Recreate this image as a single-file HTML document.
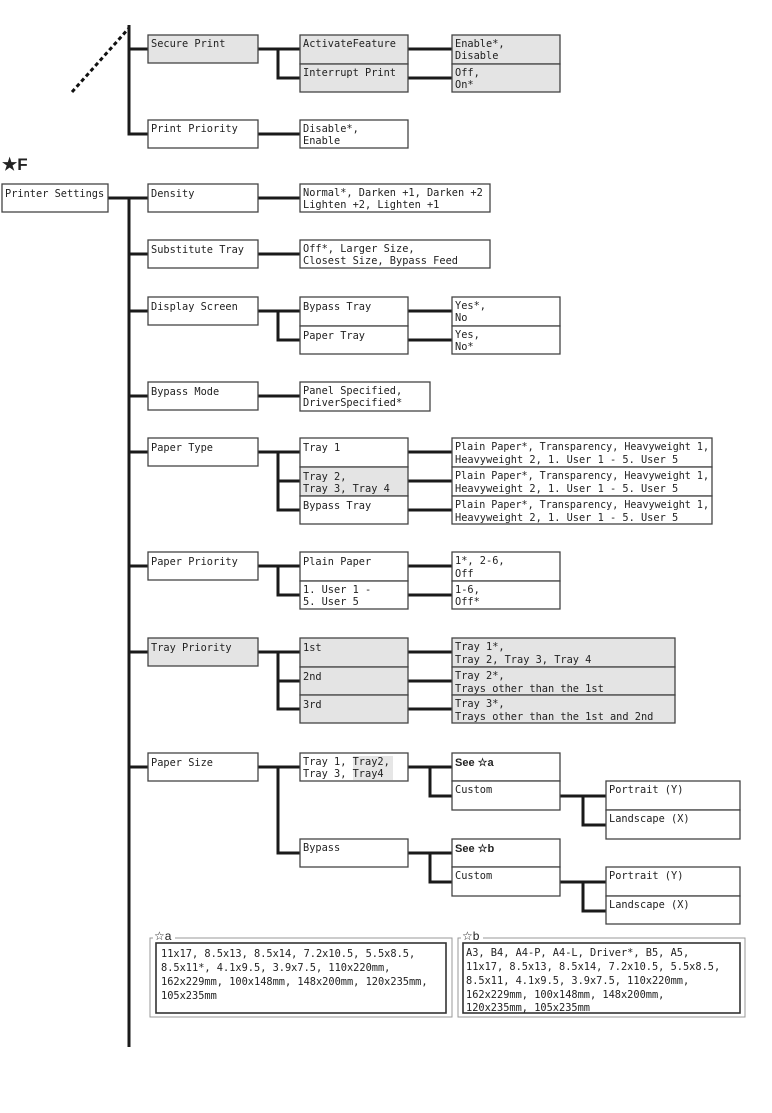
<!DOCTYPE html>
<html><head><meta charset="utf-8"><style>
html,body{margin:0;padding:0;background:#fff;width:772px;height:1113px;overflow:hidden}
svg text{font-family:"DejaVu Sans Mono","Liberation Mono",monospace;font-size:10.3px;fill:#222}
.b{fill:#fff;stroke:#444;stroke-width:1.3}
.g{fill:#e4e4e4;stroke:#444;stroke-width:1.3}
.l{fill:none;stroke:#1a1a1a;stroke-width:3}
.h{font-family:"Liberation Sans",sans-serif!important;font-weight:bold;font-size:11px!important}
</style></head><body>
<svg width="772" height="1113" viewBox="0 0 772 1113" xmlns="http://www.w3.org/2000/svg">
<line x1="72" y1="92" x2="129" y2="28" stroke="#111" stroke-width="3" stroke-dasharray="4,3"/>
<path class="l" d="M129 25V134H148M129 49H148M258 49H300M278 49V78H300M408 49H452M408 78H452M258 134H300"/>
<path class="l" d="M108 198H148M129 198V1047M129 254H148M129 311H148M129 396H148M129 452H148M129 566H148M129 652H148M129 767H148"/>
<path class="l" d="M258 198H300M258 254H300M258 311H300M278 311V340H300M408 311H452M408 340H452M258 396H300"/>
<path class="l" d="M258 452H300M278 452V510H300M278 481H300M408 452H452M408 481H452M408 510H452"/>
<path class="l" d="M258 566H300M278 566V595H300M408 566H452M408 595H452"/>
<path class="l" d="M258 652H300M278 652V709H300M278 681H300M408 652H452M408 681H452M408 709H452"/>
<path class="l" d="M258 767H300M278 767V853H300M408 767H452M430 767V796H452M560 796H606M583 796V825H606M408 853H452M430 853V882H452M560 882H606M583 882V911H606"/>
<rect class="g" x="148" y="35" width="110" height="28"/><text x="151" y="47">Secure Print</text>
<rect class="g" x="300" y="35" width="108" height="29"/><text x="303" y="47">ActivateFeature</text>
<rect class="g" x="300" y="64" width="108" height="28"/><text x="303" y="76">Interrupt Print</text>
<rect class="g" x="452" y="35" width="108" height="29"/><text x="455" y="47">Enable*,</text><text x="455" y="59">Disable</text>
<rect class="g" x="452" y="64" width="108" height="28"/><text x="455" y="76">Off,</text><text x="455" y="88">On*</text>
<rect class="b" x="148" y="120" width="110" height="28"/><text x="151" y="132">Print Priority</text>
<rect class="b" x="300" y="120" width="108" height="28"/><text x="303" y="132">Disable*,</text><text x="303" y="144">Enable</text>
<text x="2" y="170" style="font-family:'Liberation Sans',sans-serif;font-weight:bold;font-size:17px">★F</text>
<rect class="b" x="2" y="184" width="106" height="28"/><text x="5" y="197">Printer Settings</text>
<rect class="b" x="148" y="184" width="110" height="28"/><text x="151" y="197">Density</text>
<rect class="b" x="300" y="184" width="190" height="28"/><text x="303" y="196">Normal*, Darken +1, Darken +2</text><text x="303" y="208">Lighten +2, Lighten +1</text>
<rect class="b" x="148" y="240" width="110" height="28"/><text x="151" y="253">Substitute Tray</text>
<rect class="b" x="300" y="240" width="190" height="28"/><text x="303" y="252">Off*, Larger Size,</text><text x="303" y="264">Closest Size, Bypass Feed</text>
<rect class="b" x="148" y="297" width="110" height="28"/><text x="151" y="310">Display Screen</text>
<rect class="b" x="300" y="297" width="108" height="29"/><text x="303" y="310">Bypass Tray</text>
<rect class="b" x="300" y="326" width="108" height="28"/><text x="303" y="339">Paper Tray</text>
<rect class="b" x="452" y="297" width="108" height="29"/><text x="455" y="309">Yes*,</text><text x="455" y="321">No</text>
<rect class="b" x="452" y="326" width="108" height="28"/><text x="455" y="338">Yes,</text><text x="455" y="350">No*</text>
<rect class="b" x="148" y="382" width="110" height="28"/><text x="151" y="395">Bypass Mode</text>
<rect class="b" x="300" y="382" width="130" height="29"/><text x="303" y="394">Panel Specified,</text><text x="303" y="406">DriverSpecified*</text>
<rect class="b" x="148" y="438" width="110" height="28"/><text x="151" y="451">Paper Type</text>
<rect class="b" x="300" y="438" width="108" height="29"/><text x="303" y="451">Tray 1</text>
<rect class="g" x="300" y="467" width="108" height="29"/><text x="303" y="480">Tray 2,</text><text x="303" y="492">Tray 3, Tray 4</text>
<rect class="b" x="300" y="496" width="108" height="28"/><text x="303" y="509">Bypass Tray</text>
<rect class="b" x="452" y="438" width="260" height="29"/><text x="455" y="450" textLength="254" lengthAdjust="spacingAndGlyphs">Plain Paper*, Transparency, Heavyweight 1,</text><text x="455" y="463">Heavyweight 2, 1. User 1 - 5. User 5</text>
<rect class="b" x="452" y="467" width="260" height="29"/><text x="455" y="479" textLength="254" lengthAdjust="spacingAndGlyphs">Plain Paper*, Transparency, Heavyweight 1,</text><text x="455" y="492">Heavyweight 2, 1. User 1 - 5. User 5</text>
<rect class="b" x="452" y="496" width="260" height="28"/><text x="455" y="508" textLength="254" lengthAdjust="spacingAndGlyphs">Plain Paper*, Transparency, Heavyweight 1,</text><text x="455" y="521">Heavyweight 2, 1. User 1 - 5. User 5</text>
<rect class="b" x="148" y="552" width="110" height="28"/><text x="151" y="565">Paper Priority</text>
<rect class="b" x="300" y="552" width="108" height="29"/><text x="303" y="565">Plain Paper</text>
<rect class="b" x="300" y="581" width="108" height="28"/><text x="303" y="593">1. User 1 -</text><text x="303" y="605">5. User 5</text>
<rect class="b" x="452" y="552" width="108" height="29"/><text x="455" y="564">1*, 2-6,</text><text x="455" y="577">Off</text>
<rect class="b" x="452" y="581" width="108" height="28"/><text x="455" y="593">1-6,</text><text x="455" y="605">Off*</text>
<rect class="g" x="148" y="638" width="110" height="28"/><text x="151" y="651">Tray Priority</text>
<rect class="g" x="300" y="638" width="108" height="29"/><text x="303" y="651">1st</text>
<rect class="g" x="300" y="667" width="108" height="28"/><text x="303" y="680">2nd</text>
<rect class="g" x="300" y="695" width="108" height="28"/><text x="303" y="708">3rd</text>
<rect class="g" x="452" y="638" width="223" height="29"/><text x="455" y="650">Tray 1*,</text><text x="455" y="663">Tray 2, Tray 3, Tray 4</text>
<rect class="g" x="452" y="667" width="223" height="28"/><text x="455" y="679">Tray 2*,</text><text x="455" y="692">Trays other than the 1st</text>
<rect class="g" x="452" y="695" width="223" height="28"/><text x="455" y="707">Tray 3*,</text><text x="455" y="720">Trays other than the 1st and 2nd</text>
<rect class="b" x="148" y="753" width="110" height="28"/><text x="151" y="766">Paper Size</text>
<rect class="b" x="300" y="753" width="108" height="28"/><rect x="353" y="756" width="40" height="24" fill="#e6e6e6"/><text x="303" y="765">Tray 1, Tray2,</text><text x="303" y="777">Tray 3, Tray4</text>
<rect class="b" x="452" y="753" width="108" height="28"/><text class="h" x="455" y="766">See ☆a</text>
<rect class="b" x="452" y="781" width="108" height="29"/><text x="455" y="793">Custom</text>
<rect class="b" x="606" y="781" width="134" height="29"/><text x="609" y="793">Portrait (Y)</text>
<rect class="b" x="606" y="810" width="134" height="29"/><text x="609" y="822">Landscape (X)</text>
<rect class="b" x="300" y="839" width="108" height="28"/><text x="303" y="851">Bypass</text>
<rect class="b" x="452" y="839" width="108" height="28"/><text class="h" x="455" y="852">See ☆b</text>
<rect class="b" x="452" y="867" width="108" height="29"/><text x="455" y="879">Custom</text>
<rect class="b" x="606" y="867" width="134" height="29"/><text x="609" y="879">Portrait (Y)</text>
<rect class="b" x="606" y="896" width="134" height="28"/><text x="609" y="908">Landscape (X)</text>
<rect x="150" y="938" width="302" height="79" fill="#fff" stroke="#999" stroke-width="1"/>
<rect x="156" y="943" width="290" height="70" fill="#fff" stroke="#333" stroke-width="1.6"/>
<rect x="153" y="930" width="22" height="12" fill="#fff"/>
<text x="154" y="940" style="font-family:'Liberation Sans',sans-serif;font-size:12px">☆a</text>
<text x="161" y="957">11x17, 8.5x13, 8.5x14, 7.2x10.5, 5.5x8.5,</text>
<text x="161" y="971">8.5x11*, 4.1x9.5, 3.9x7.5, 110x220mm,</text>
<text x="161" y="985">162x229mm, 100x148mm, 148x200mm, 120x235mm,</text>
<text x="161" y="999">105x235mm</text>
<rect x="458" y="938" width="287" height="79" fill="#fff" stroke="#999" stroke-width="1"/>
<rect x="463" y="943" width="277" height="70" fill="#fff" stroke="#333" stroke-width="1.6"/>
<rect x="461" y="930" width="22" height="12" fill="#fff"/>
<text x="462" y="940" style="font-family:'Liberation Sans',sans-serif;font-size:12px">☆b</text>
<text x="466" y="956">A3, B4, A4-P, A4-L, Driver*, B5, A5,</text>
<text x="466" y="970">11x17, 8.5x13, 8.5x14, 7.2x10.5, 5.5x8.5,</text>
<text x="466" y="984">8.5x11, 4.1x9.5, 3.9x7.5, 110x220mm,</text>
<text x="466" y="998">162x229mm, 100x148mm, 148x200mm,</text>
<text x="466" y="1011">120x235mm, 105x235mm</text>
</svg>
</body></html>
